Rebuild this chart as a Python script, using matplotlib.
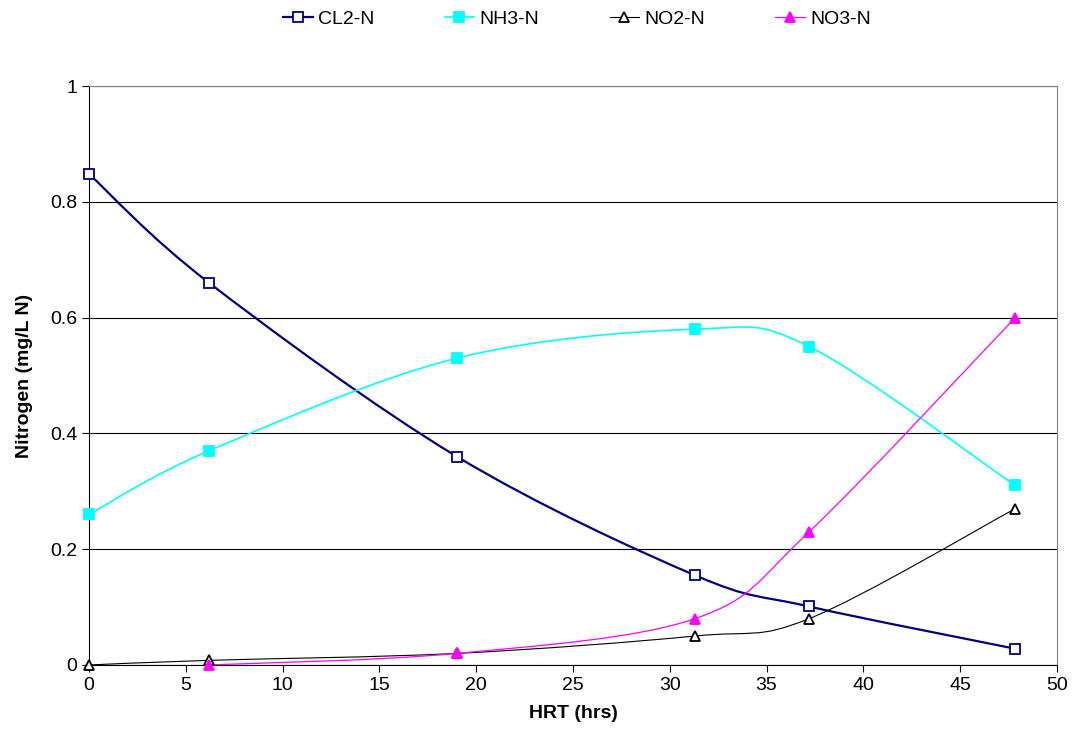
import numpy as np
import matplotlib.pyplot as plt
from matplotlib.path import Path
from matplotlib.patches import PathPatch
from matplotlib.ticker import FuncFormatter

plt.rcParams['font.family'] = ['Liberation Sans', 'DejaVu Sans']

# Dados
hrt = [0, 6.2, 19.0, 31.3, 37.2, 47.85]
cl2 = [0.848, 0.66, 0.36, 0.155, 0.101, 0.028]
nh3 = [0.26, 0.37, 0.53, 0.58, 0.55, 0.31]
no2 = [0.0, 0.008, 0.02, 0.05, 0.08, 0.27]
hrt_no3 = [6.2, 19.0, 31.3, 37.2, 47.85]
no3 = [0.0, 0.02, 0.08, 0.23, 0.60]


# Curva suavizada no estilo do Excel (Bezier com pontos de controle Catmull-Rom)
def smooth_path(x, y):
    p = np.column_stack([x, y]).astype(float)
    verts = [p[0]]
    codes = [Path.MOVETO]
    n = len(p)
    for i in range(n - 1):
        p0 = p[i - 1] if i > 0 else p[i]
        p3 = p[i + 2] if i + 2 < n else p[i + 1]
        c1 = p[i] + (p[i + 1] - p0) / 6
        c2 = p[i + 1] - (p3 - p[i]) / 6
        verts += [c1, c2, p[i + 1]]
        codes += [Path.CURVE4] * 3
    return Path(verts, codes)


fig = plt.figure(figsize=(10.73, 7.48), dpi=100)
ax = fig.add_axes([0.083, 0.111, 0.902, 0.774])

series = [
    ('CL2-N', hrt, cl2, '#000080', 1.6, 's', 'white', '#000080'),
    ('NH3-N', hrt, nh3, '#00FFFF', 1.2, 's', '#00FFFF', '#00FFFF'),
    ('NO2-N', hrt, no2, 'black', 0.8, '^', 'white', 'black'),
    ('NO3-N', hrt_no3, no3, '#FF00FF', 0.9, '^', '#FF00FF', '#FF00FF'),
]

for name, xs, ys, color, lw, mk, mfc, mec in series:
    ax.add_patch(PathPatch(smooth_path(xs, ys), facecolor='none',
                           edgecolor=color, lw=lw, zorder=3, clip_on=False))
    ax.plot(xs, ys, linestyle='none', marker=mk, markersize=7.5,
            markerfacecolor=mfc, markeredgecolor=mec, markeredgewidth=1.3,
            zorder=4, clip_on=False)
    # entrada da legenda
    ax.plot([], [], color=color, lw=lw, marker=mk, markersize=7.5,
            markerfacecolor=mfc, markeredgecolor=mec, markeredgewidth=1.3,
            label=name)

ax.set_xlim(0, 50)
ax.set_ylim(0, 1)
ax.set_xticks(range(0, 51, 5))
ax.set_yticks([0, 0.2, 0.4, 0.6, 0.8, 1.0])
ax.yaxis.set_major_formatter(FuncFormatter(lambda v, p: f'{v:g}'))
ax.tick_params(labelsize=14, direction='out', length=5, color='black')
ax.yaxis.grid(True, color='black', lw=0.8)
ax.set_axisbelow(True)

for s in ['top', 'right']:
    ax.spines[s].set_color('#808080')
for s in ['left', 'bottom']:
    ax.spines[s].set_color('black')

ax.set_xlabel('HRT (hrs)', fontsize=14, fontweight='bold', labelpad=8)
ax.set_ylabel('Nitrogen (mg/L N)', fontsize=14, fontweight='bold', labelpad=12)

fig.legend(loc='center', bbox_to_anchor=(0.538, 0.975), ncol=4, frameon=False,
           fontsize=14, handlelength=1.5, columnspacing=3.6, handletextpad=0.3)

fig.savefig('out.png', dpi=100)
